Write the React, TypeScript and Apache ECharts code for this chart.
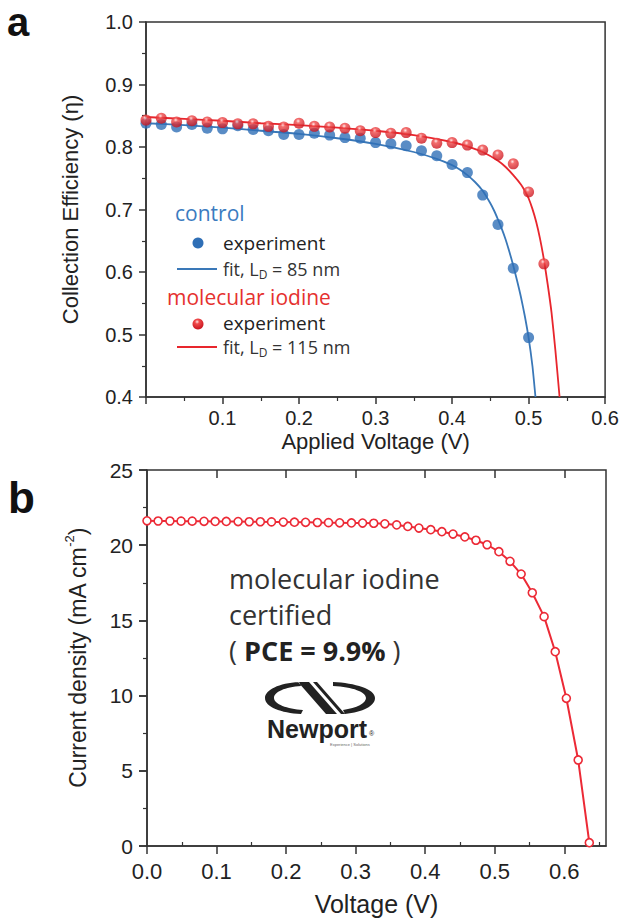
import React, { useEffect, useRef } from 'react';
import * as echarts from 'echarts';

// ---------- Panel a : collection efficiency ----------
const ctrlV = [0, 0.02, 0.04, 0.06, 0.08, 0.1, 0.12, 0.14, 0.16, 0.18, 0.2, 0.22, 0.24, 0.26, 0.28, 0.3, 0.32, 0.34, 0.36, 0.38, 0.4, 0.42, 0.44, 0.46, 0.48, 0.5];
const ctrlEff = [0.838, 0.836, 0.832, 0.836, 0.830, 0.829, 0.834, 0.828, 0.826, 0.820, 0.820, 0.822, 0.819, 0.815, 0.814, 0.807, 0.805, 0.802, 0.794, 0.786, 0.772, 0.759, 0.723, 0.676, 0.606, 0.495];

const iodV = [0, 0.02, 0.04, 0.06, 0.08, 0.1, 0.12, 0.14, 0.16, 0.18, 0.2, 0.22, 0.24, 0.26, 0.28, 0.3, 0.32, 0.34, 0.36, 0.38, 0.4, 0.42, 0.44, 0.46, 0.48, 0.5, 0.52];
const iodEff = [0.843, 0.846, 0.840, 0.842, 0.840, 0.839, 0.837, 0.837, 0.833, 0.832, 0.838, 0.833, 0.832, 0.830, 0.826, 0.823, 0.822, 0.823, 0.814, 0.806, 0.807, 0.803, 0.795, 0.787, 0.773, 0.728, 0.613];

const ctrlFitV = [0, 0.05, 0.1, 0.15, 0.2, 0.25, 0.3, 0.35, 0.38, 0.4, 0.41, 0.42, 0.43, 0.44, 0.45, 0.455, 0.46, 0.465, 0.47, 0.475, 0.48, 0.485, 0.49, 0.495, 0.5, 0.505, 0.509];
const ctrlFitEff = [0.838, 0.835, 0.831, 0.826, 0.821, 0.814, 0.805, 0.792, 0.781, 0.771, 0.764, 0.755, 0.744, 0.73, 0.71, 0.698, 0.684, 0.669, 0.652, 0.632, 0.61, 0.586, 0.56, 0.53, 0.495, 0.45, 0.4];

const iodFitV = [0, 0.05, 0.1, 0.15, 0.2, 0.25, 0.3, 0.35, 0.4, 0.42, 0.44, 0.46, 0.47, 0.48, 0.49, 0.495, 0.5, 0.505, 0.51, 0.515, 0.52, 0.525, 0.53, 0.535, 0.5405];
const iodFitEff = [0.848, 0.845, 0.842, 0.838, 0.835, 0.831, 0.826, 0.819, 0.808, 0.801, 0.792, 0.778, 0.768, 0.755, 0.74, 0.73, 0.718, 0.701, 0.68, 0.653, 0.62, 0.58, 0.535, 0.475, 0.4];

// ---------- Panel b : certified J-V ----------
const jvV = [0, 0.016, 0.033, 0.049, 0.065, 0.082, 0.098, 0.114, 0.131, 0.147, 0.163, 0.179, 0.196, 0.212, 0.228, 0.245, 0.261, 0.277, 0.294, 0.31, 0.326, 0.342, 0.359, 0.375, 0.391, 0.408, 0.424, 0.44, 0.457, 0.473, 0.489, 0.506, 0.522, 0.538, 0.554, 0.571, 0.587, 0.603, 0.62, 0.636];
const jvJ = [21.62, 21.61, 21.61, 21.6, 21.6, 21.59, 21.58, 21.58, 21.57, 21.56, 21.56, 21.55, 21.54, 21.53, 21.52, 21.51, 21.5, 21.49, 21.48, 21.47, 21.46, 21.42, 21.35, 21.25, 21.14, 21.03, 20.9, 20.74, 20.55, 20.33, 20.03, 19.57, 18.93, 18.08, 16.84, 15.25, 12.92, 9.82, 5.72, 0.22];

const bLabelTicks = [0, 0.1, 0.2, 0.3, 0.4, 0.5, 0.6];
const bMinorTicks = [0.05, 0.15, 0.25, 0.35, 0.45, 0.55, 0.65];
const bTopTicks = [0.1, 0.2, 0.3, 0.4, 0.5, 0.6];

const LOGO_PATH =
  'M34 0 C14 1 0 8 0 16 C0 25 16 31 36 32 L38 28 C22 27 9 22 9 16 C9 10 20 5 36 4 Z ' +
  'M33 0 L44 0 L72 32 L61 32 Z M48 0 L52 0 L80 32 L76 32 Z ' +
  'M68 0 C90 1 110 7 110 16 C110 24 98 30 80 32 L78 28 C92 26 101 21 101 16 C101 10 88 5 68 4 Z';

echarts.graphic.registerShape('newportLogo', echarts.graphic.extendPath(LOGO_PATH, {}));

const AX = '#333';
const TXT = '#222';
const BLUE = '#2f6fb6';
const RED = '#e8262d';
const SANS = 'Liberation Sans';
const OPEN = 'Open Sans';

const zip = (a: number[], b: number[]) => a.map((v, i) => [v, b[i]]);

const redBall = () =>
  new echarts.graphic.RadialGradient(0.42, 0.3, 0.7, [
    { offset: 0, color: '#ffe6e6' },
    { offset: 0.28, color: '#f04a4a' },
    { offset: 1, color: '#c8141e' },
  ]);

export default function App() {
  const ref = useRef<HTMLDivElement>(null);
  useEffect(() => {
    if (!ref.current) return;
    const chart = echarts.init(ref.current, undefined, { renderer: 'svg' });
    const lineStyle = { color: AX, width: 1.5 };
    const option: any = {
      animation: false,
      backgroundColor: '#fff',
      textStyle: { fontFamily: SANS },
      grid: [
        { left: 146, top: 22, width: 461, height: 375, show: true, borderColor: AX, borderWidth: 1.5, backgroundColor: 'transparent' },
        { left: 147, top: 470, width: 459, height: 376, show: true, borderColor: AX, borderWidth: 1.5, backgroundColor: 'transparent' },
      ],
      xAxis: [
        {
          type: 'value', gridIndex: 0, min: 0, max: 0.6, interval: 0.1,
          axisLine: { lineStyle }, splitLine: { show: false },
          axisTick: { inside: false, length: 7, lineStyle },
          minorTick: { show: true, splitNumber: 2, length: 4, lineStyle: { color: AX, width: 1.2 } },
          axisLabel: { formatter: (v: number) => (v === 0 ? '' : v.toFixed(1)), fontSize: 20, fontFamily: SANS, color: TXT, margin: 11 },
          name: 'Applied Voltage (V)', nameLocation: 'middle', nameGap: 33,
          nameTextStyle: { fontSize: 22, fontFamily: SANS, color: TXT },
        },
        {
          type: 'value', gridIndex: 1, min: 0, max: 0.66,
          axisLine: { lineStyle }, splitLine: { show: false },
          axisTick: { inside: false, length: 8, lineStyle, customValues: bLabelTicks },
          axisLabel: { customValues: bLabelTicks, formatter: (v: number) => v.toFixed(1), fontSize: 22, fontFamily: SANS, color: TXT, margin: 14 },
          name: 'Voltage (V)', nameLocation: 'middle', nameGap: 45,
          nameTextStyle: { fontSize: 25, fontFamily: SANS, color: TXT },
        },
        {
          type: 'value', gridIndex: 1, min: 0, max: 0.66,
          axisLine: { show: false }, splitLine: { show: false }, axisLabel: { show: false },
          axisTick: { inside: false, length: 4, lineStyle: { color: AX, width: 1.2 }, customValues: bMinorTicks },
        },
        {
          type: 'value', gridIndex: 1, min: 0, max: 0.66, position: 'top',
          axisLine: { show: false }, splitLine: { show: false }, axisLabel: { show: false },
          axisTick: { inside: true, length: 8, lineStyle, customValues: bTopTicks },
        },
      ],
      yAxis: [
        {
          type: 'value', gridIndex: 0, min: 0.4, max: 1.0, interval: 0.1,
          axisLine: { lineStyle }, splitLine: { show: false },
          axisTick: { inside: false, length: 7, lineStyle },
          minorTick: { show: true, splitNumber: 2, length: 4, lineStyle: { color: AX, width: 1.2 } },
          axisLabel: { formatter: (v: number) => v.toFixed(1), fontSize: 20, fontFamily: SANS, color: TXT, margin: 13 },
          name: 'Collection Efficiency (η)', nameLocation: 'middle', nameGap: 65, nameRotate: 90,
          nameTextStyle: { fontSize: 22, fontFamily: SANS, color: TXT },
        },
        {
          type: 'value', gridIndex: 1, min: 0, max: 25, interval: 5,
          axisLine: { lineStyle }, splitLine: { show: false },
          axisTick: { inside: false, length: 8, lineStyle },
          minorTick: { show: true, splitNumber: 2, length: 4, lineStyle: { color: AX, width: 1.2 } },
          axisLabel: { fontSize: 21, fontFamily: SANS, color: TXT, margin: 14 },
          name: 'Current density (mA cm{sup|-2})', nameLocation: 'middle', nameGap: 54, nameRotate: 90,
          nameTextStyle: {
            fontSize: 23, fontFamily: SANS, color: TXT, lineHeight: 30,
            rich: { sup: { fontSize: 13, fontFamily: SANS, color: TXT, verticalAlign: 'top', lineHeight: 13 } },
          },
        },
        {
          type: 'value', gridIndex: 1, min: 0, max: 25, interval: 5, position: 'right',
          axisLine: { show: false }, splitLine: { show: false }, axisLabel: { show: false },
          axisTick: { inside: true, length: 8, lineStyle },
        },
      ],
      series: [
        {
          type: 'line', xAxisIndex: 0, yAxisIndex: 0, data: zip(ctrlFitV, ctrlFitEff),
          showSymbol: false, smooth: 0.2, lineStyle: { color: '#3a78b8', width: 1.8 }, z: 2,
        },
        {
          type: 'line', xAxisIndex: 0, yAxisIndex: 0, data: zip(iodFitV, iodFitEff),
          showSymbol: false, smooth: 0.2, lineStyle: { color: RED, width: 1.8 }, z: 2,
        },
        {
          type: 'scatter', xAxisIndex: 0, yAxisIndex: 0, data: zip(ctrlV, ctrlEff),
          symbol: 'circle', symbolSize: 11, itemStyle: { color: BLUE }, z: 3,
        },
        {
          type: 'scatter', xAxisIndex: 0, yAxisIndex: 0, data: zip(iodV, iodEff),
          symbol: 'circle', symbolSize: 11, itemStyle: { color: redBall() }, z: 4,
        },
        {
          type: 'line', xAxisIndex: 1, yAxisIndex: 1, data: zip(jvV, jvJ),
          symbol: 'circle', symbolSize: 8, showAllSymbol: true,
          lineStyle: { color: '#ec2a36', width: 2 },
          itemStyle: { color: '#fff', borderColor: '#ec2a36', borderWidth: 1.6 }, z: 3,
        },
      ],
      graphic: {
        elements: [
          { type: 'text', x: 7, y: 22, style: { text: 'a', fontSize: 40, lineHeight: 30, fontWeight: 'bold', fontFamily: SANS, fill: '#111', verticalAlign: 'middle' } },
          { type: 'text', x: 8, y: 497, style: { text: 'b', fontSize: 44, lineHeight: 36, fontWeight: 'bold', fontFamily: SANS, fill: '#111', verticalAlign: 'middle' } },
          // legend of panel a
          { type: 'text', x: 175, y: 213, style: { text: 'control', fontSize: 21, fontFamily: OPEN, fill: '#3b7bbf', verticalAlign: 'middle' } },
          { type: 'circle', shape: { cx: 198, cy: 243, r: 5.5 }, style: { fill: BLUE } },
          { type: 'text', x: 223, y: 243, style: { text: 'experiment', fontSize: 19, fontFamily: OPEN, fill: TXT, verticalAlign: 'middle' } },
          { type: 'line', shape: { x1: 177, y1: 269, x2: 217, y2: 269 }, style: { stroke: '#3a78b8', lineWidth: 1.8 } },
          {
            type: 'text', x: 223, y: 269,
            style: {
              text: 'fit, L{sub|D} = 85 nm', fontSize: 18, fontFamily: OPEN, fill: '#333', verticalAlign: 'middle', lineHeight: 22,
              rich: { sub: { fontSize: 12, fontFamily: OPEN, fill: '#333', verticalAlign: 'bottom', lineHeight: 12 } },
            },
          },
          { type: 'text', x: 167, y: 297, style: { text: 'molecular iodine', fontSize: 21, fontFamily: OPEN, fill: '#e5312f', verticalAlign: 'middle' } },
          { type: 'circle', shape: { cx: 198, cy: 324, r: 5.5 }, style: { fill: redBall() } },
          { type: 'text', x: 223, y: 323, style: { text: 'experiment', fontSize: 19, fontFamily: OPEN, fill: TXT, verticalAlign: 'middle' } },
          { type: 'line', shape: { x1: 177, y1: 347, x2: 217, y2: 347 }, style: { stroke: RED, lineWidth: 1.8 } },
          {
            type: 'text', x: 223, y: 347,
            style: {
              text: 'fit, L{sub|D} = 115 nm', fontSize: 18, fontFamily: OPEN, fill: '#333', verticalAlign: 'middle', lineHeight: 22,
              rich: { sub: { fontSize: 12, fontFamily: OPEN, fill: '#333', verticalAlign: 'bottom', lineHeight: 12 } },
            },
          },
          // annotation of panel b
          { type: 'text', x: 229, y: 578, style: { text: 'molecular iodine', fontSize: 27, fontFamily: OPEN, fill: '#333', verticalAlign: 'middle' } },
          { type: 'text', x: 229, y: 614, style: { text: 'certified', fontSize: 27, fontFamily: OPEN, fill: '#333', verticalAlign: 'middle' } },
          {
            type: 'text', x: 229, y: 650,
            style: {
              text: '( {b|PCE = 9.9%} )', fontSize: 27, fontFamily: OPEN, fill: '#333', verticalAlign: 'middle',
              rich: { b: { fontSize: 27, fontFamily: OPEN, fontWeight: 'bold', fill: '#222' } },
            },
          },
          { type: 'newportLogo', x: 265, y: 682, style: { fill: '#222' } },
          { type: 'text', x: 267, y: 729, style: { text: 'Newport', fontSize: 25, fontWeight: 'bold', fontFamily: SANS, fill: '#222', verticalAlign: 'middle' } },
          { type: 'text', x: 369, y: 733, style: { text: '®', fontSize: 7, fontFamily: SANS, fill: '#222', verticalAlign: 'middle' } },
          { type: 'text', x: 330, y: 744, style: { text: 'Experience | Solutions', fontSize: 4, fontFamily: SANS, fill: '#666', verticalAlign: 'middle' } },
        ],
      },
    };
    chart.setOption(option);
    return () => chart.dispose();
  }, []);
  return <div ref={ref} style={{ position: 'absolute', left: 0, top: 0, width: 622, height: 920 }} />;
}
